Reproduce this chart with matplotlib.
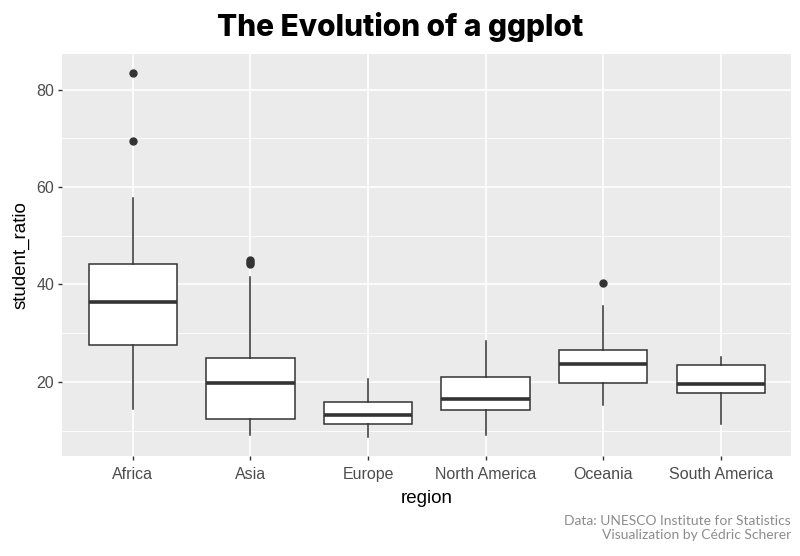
import matplotlib
matplotlib.use("Agg")
import matplotlib.pyplot as plt

# box statistics (student_ratio by region)
regions = ["Africa", "Asia", "Europe", "North America", "Oceania", "South America"]
whisker_low = [14.5, 9.1, 8.6, 9.0, 15.2, 11.4]
q1 = [27.6, 12.4, 11.4, 14.2, 19.8, 17.7]
medians = [36.4, 19.8, 13.2, 16.4, 23.6, 19.6]
q3 = [44.2, 24.9, 15.9, 20.9, 26.5, 23.5]
whisker_high = [57.8, 41.6, 20.6, 28.3, 35.5, 25.1]
outliers = [[69.5, 83.5], [44.2, 44.6, 45.0], [], [], [40.3], []]

y_ticks = [20, 40, 60, 80]

fig, ax = plt.subplots(figsize=(8, 5.56), dpi=100)
fig.subplots_adjust(left=0.078, right=0.989, top=0.902, bottom=0.18)

stats = []
for i, name in enumerate(regions):
    stats.append({
        "label": name,
        "whislo": whisker_low[i],
        "q1": q1[i],
        "med": medians[i],
        "q3": q3[i],
        "whishi": whisker_high[i],
        "fliers": outliers[i],
    })

dark = "#333333"
ax.bxp(
    stats,
    positions=range(1, len(regions) + 1),
    widths=0.75,
    patch_artist=True,
    showcaps=False,
    boxprops=dict(facecolor="white", edgecolor=dark, linewidth=1.1),
    medianprops=dict(color=dark, linewidth=2.6),
    whiskerprops=dict(color=dark, linewidth=1.1),
    flierprops=dict(marker="o", markerfacecolor=dark, markeredgecolor=dark,
                    markersize=5),
    zorder=3,
)

ax.set_xlim(0.4, 6.6)
ax.set_ylim(4.8, 87.2)
ax.set_yticks(y_ticks)
ax.set_yticks([10, 30, 50, 70], minor=True)
ax.set_facecolor("#EBEBEB")
ax.grid(True, which="major", color="white", linewidth=1.2, zorder=0)
ax.grid(True, which="minor", axis="y", color="white", linewidth=0.6, zorder=0)
ax.set_axisbelow(True)
for s in ax.spines.values():
    s.set_visible(False)

ax.tick_params(axis="both", which="major", length=3, color=dark, width=1,
               labelsize=11.5, labelcolor="#4D4D4D")
ax.tick_params(axis="x", which="major", pad=5)
ax.tick_params(axis="y", which="major", pad=3)
ax.tick_params(axis="y", which="minor", length=0)
for lab in ax.get_xticklabels() + ax.get_yticklabels():
    lab.set_fontfamily("Liberation Sans")

ax.set_xlabel("region", fontsize=13.5, family="Liberation Sans", labelpad=6)
ax.set_ylabel("student_ratio", fontsize=13.5, family="Liberation Sans", labelpad=5)

fig.suptitle("The Evolution of a ggplot", x=0.5, y=0.978, fontsize=21.5,
             fontweight="heavy", family="Inter")

fig.text(0.989, 0.074, "Data: UNESCO Institute for Statistics\nVisualization by Cédric Scherer",
         ha="right", va="top", fontsize=10, color="#8C8C8C", family="Lato",
         linespacing=1.25)

fig.savefig("out.png", dpi=100)
